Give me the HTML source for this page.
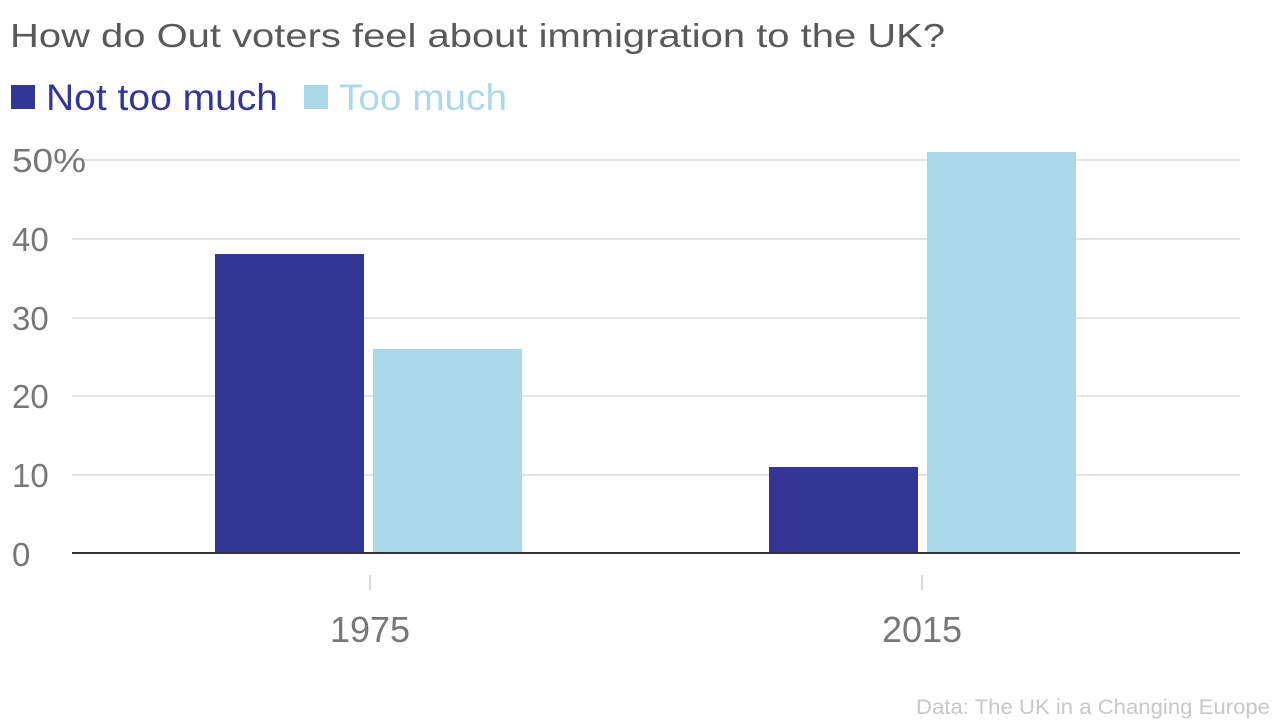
<!DOCTYPE html>
<html><head><meta charset="utf-8"><style>
body{margin:0;width:1280px;height:720px;background:#fff;overflow:hidden;font-family:"Liberation Sans",sans-serif}
</style></head><body>
<svg width="1280" height="720" xmlns="http://www.w3.org/2000/svg" font-family="Liberation Sans, sans-serif">
<text x="10" y="47" font-size="33" fill="#595959" textLength="935" lengthAdjust="spacingAndGlyphs">How do Out voters feel about immigration to the UK?</text>
<rect x="11" y="85" width="24" height="24" fill="#333694"/>
<text x="46" y="110" font-size="37" fill="#333694" textLength="232" lengthAdjust="spacingAndGlyphs">Not too much</text>
<rect x="304" y="85" width="24" height="24" fill="#abd9e9"/>
<text x="339" y="110" font-size="37" fill="#abd9e9" textLength="168" lengthAdjust="spacingAndGlyphs">Too much</text>
<g stroke="#dcdcdc" stroke-width="1.5">
<line x1="72" x2="1240" y1="160" y2="160"/>
<line x1="72" x2="1240" y1="239" y2="239"/>
<line x1="72" x2="1240" y1="318" y2="318"/>
<line x1="72" x2="1240" y1="396" y2="396"/>
<line x1="72" x2="1240" y1="475" y2="475"/>
</g>
<g font-size="33" fill="#777">
<text x="12" y="172" textLength="74" lengthAdjust="spacingAndGlyphs">50%</text>
<text x="12" y="251">40</text>
<text x="12" y="330">30</text>
<text x="12" y="408">20</text>
<text x="12" y="487">10</text>
<text x="12" y="566">0</text>
</g>
<rect x="215" y="254" width="149" height="299" fill="#333694"/>
<rect x="373" y="349" width="149" height="204" fill="#abd9e9"/>
<rect x="769" y="467" width="149" height="86" fill="#333694"/>
<rect x="927" y="152" width="149" height="401" fill="#abd9e9"/>
<line x1="72" x2="1240" y1="553" y2="553" stroke="#333" stroke-width="2"/>
<line x1="370" x2="370" y1="575" y2="590" stroke="#ccc" stroke-width="1.5"/>
<line x1="922" x2="922" y1="575" y2="590" stroke="#ccc" stroke-width="1.5"/>
<text x="370" y="642" font-size="36" fill="#777" text-anchor="middle">1975</text>
<text x="922" y="642" font-size="36" fill="#777" text-anchor="middle">2015</text>
<text x="916" y="714" font-size="21" fill="#c8c8c8" textLength="354" lengthAdjust="spacingAndGlyphs">Data: The UK in a Changing Europe</text>
</svg>
</body></html>
